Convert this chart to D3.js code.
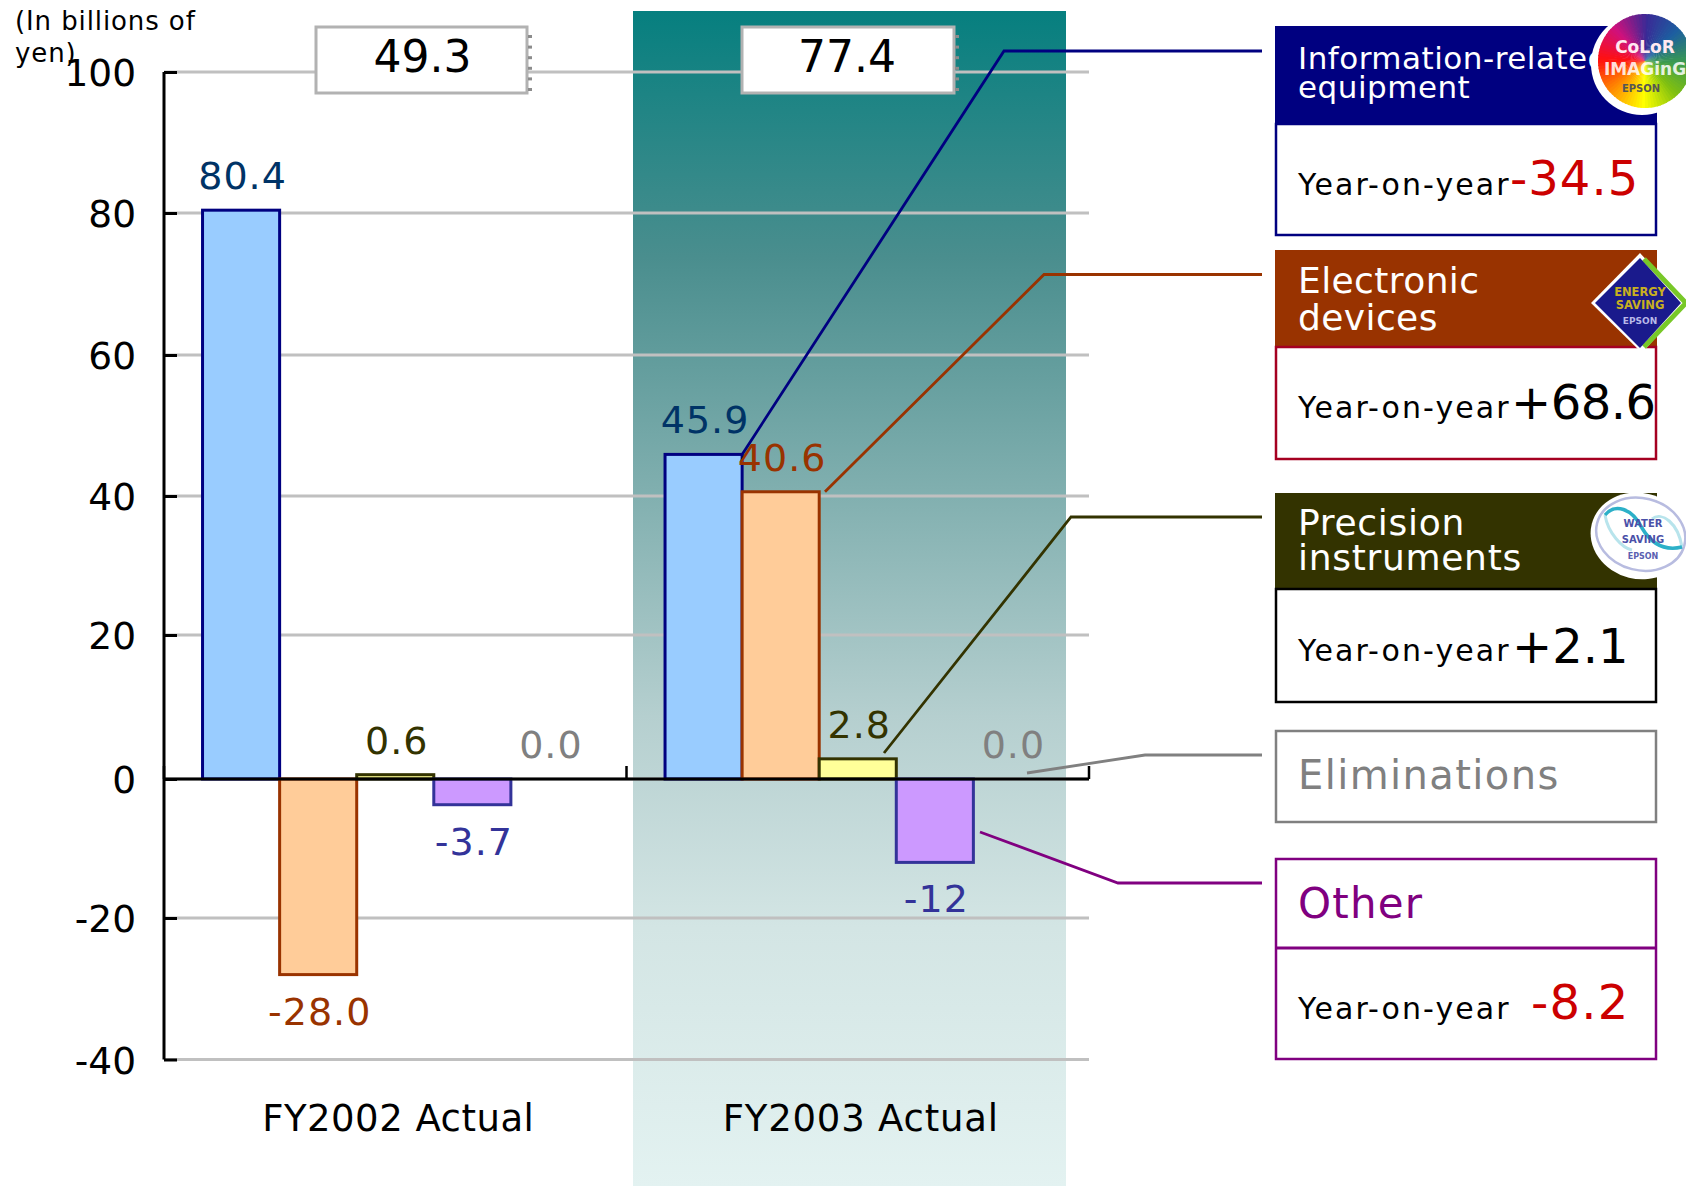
<!DOCTYPE html>
<html>
<head>
<meta charset="utf-8">
<script src="https://cdn.jsdelivr.net/npm/d3@7"></script>
<style>
html,body{margin:0;padding:0;background:#fff;overflow:hidden;}
svg{display:block;}
text{font-family:"DejaVu Sans",Verdana,sans-serif;}
</style>
</head>
<body>
<svg id="chart" width="1686" height="1186"></svg>
<script>
// Operating income by segment, in billions of yen
const years = ["FY2002 Actual", "FY2003 Actual"];
const segments = ["Information-related equipment", "Electronic devices", "Precision instruments", "Other", "Eliminations"];
const fy2002Values = [80.4, -28.0, 0.6, -3.7, 0.0];
const fy2003Values = [45.9, 40.6, 2.8, -12, 0.0];
const fy2002Labels = ["80.4", "-28.0", "0.6", "-3.7", "0.0"];
const fy2003Labels = ["45.9", "40.6", "2.8", "-12", "0.0"];
const yearTotals = ["49.3", "77.4"];
const axisTicks = [100, 80, 60, 40, 20, 0, -20, -40];
const axisRows = [72, 213, 355, 496, 635, 779, 918, 1059.5];
const fillColors = ["#99ccff", "#ffcc99", "#ffff99", "#cc99ff", "none"];
const edgeColors = ["#000080", "#993300", "#333300", "#333399", "none"];
const labelColors = ["#003366", "#993300", "#333300", "#333399", "#808080"];

// Year-on-year panel content
const panelTitles = [["Information-related", "equipment"], ["Electronic", "devices"], ["Precision", "instruments"], ["Eliminations"], ["Other"]];
const panelChanges = ["-34.5", "+68.6", "+2.1", null, "-8.2"];

const svg = d3.select("#chart");
const x0 = d3.scaleBand().domain(years).range([164, 1089]);
const x1 = d3.scaleBand().domain(d3.range(5)).range([0, x0.bandwidth()]).paddingOuter(0.5).paddingInner(0);
const y = d3.scaleLinear().domain(axisTicks).range(axisRows);

// Shaded backdrop behind the second year
const defs = svg.append("defs");
const grad = defs.append("linearGradient").attr("id", "yearShade").attr("x1", 0).attr("y1", 0).attr("x2", 0).attr("y2", 1);
[[0, "#067f7f"], [0.21, "#4a8e8e"], [0.6, "#b5cfcf"], [0.78, "#d3e5e4"], [1, "#e3f2f1"]].forEach(([o, c]) => {
  grad.append("stop").attr("offset", o).attr("stop-color", c);
});
svg.append("rect").attr("x", 633).attr("y", 11).attr("width", 433).attr("height", 1175).attr("fill", "url(#yearShade)");

// Horizontal gridlines
svg.append("g").selectAll("line").data(axisTicks).join("line")
  .attr("x1", 164).attr("x2", 1089)
  .attr("y1", d => y(d)).attr("y2", d => y(d))
  .attr("stroke", "#c0c0c0").attr("stroke-width", 3);

// Year total boxes straddling the top gridline
const totalBoxes = [[316, 211], [742, 212]];
yearTotals.forEach((t, i) => {
  const [bx, bw] = totalBoxes[i];
  const g = svg.append("g");
  g.append("rect").attr("x", bx).attr("y", 27).attr("width", bw).attr("height", 66)
    .attr("fill", "#fff").attr("stroke", "#b2b2b2").attr("stroke-width", 3);
  d3.range(6).forEach(k => {
    g.append("rect").attr("x", bx + bw + 1).attr("y", 35 + k * 10.6).attr("width", 4).attr("height", 3).attr("fill", "#8c8c8c");
  });
  g.append("text").attr("x", bx + bw / 2 + (i ? -1 : 1)).attr("y", 72).attr("text-anchor", "middle")
    .attr("font-size", 44).attr("fill", "#000").text(t);
});

// Bars for both years
const seriesByYear = [fy2002Values, fy2003Values];
const labelsByYear = [fy2002Labels, fy2003Labels];
const yearLabelSpacing = [0.5, 0.8];
const bars = svg.append("g");
years.forEach((yr, yi) => {
  const rows = seriesByYear[yi].map((v, s) => ({ v, s, label: labelsByYear[yi][s] }));
  bars.selectAll(null).data(rows.filter(r => r.s < 4)).join("rect")
    .attr("x", r => x0(yr) + x1(r.s))
    .attr("y", r => Math.min(y(r.v), y(0)))
    .attr("width", x1.bandwidth())
    .attr("height", r => Math.abs(y(r.v) - y(0)))
    .attr("fill", r => fillColors[r.s])
    .attr("stroke", r => edgeColors[r.s])
    .attr("stroke-width", 3);
  bars.selectAll(null).data(rows).join("text")
    .attr("x", r => x0(yr) + x1(r.s) + x1.bandwidth() / 2 + 1.5)
    .attr("y", r => r.v < 0 ? y(r.v) + 50 : y(r.v) - 21)
    .attr("text-anchor", "middle")
    .attr("font-size", 38)
    .attr("letter-spacing", 1)
    .attr("fill", r => labelColors[r.s])
    .text(r => r.label);
  svg.append("text").attr("x", x0(yr) + x0.bandwidth() / 2 + 3).attr("y", 1131).attr("text-anchor", "middle")
    .attr("font-size", 37).attr("letter-spacing", yearLabelSpacing[yi]).attr("fill", "#000").text(yr);
});

// Value axis with inward ticks
const axis = d3.axisLeft(y).tickValues(axisTicks).tickSize(-13).tickPadding(28).tickFormat(d => String(d));
const axisG = svg.append("g").attr("transform", "translate(164,0)").call(axis);
axisG.select(".domain").attr("stroke", "#000").attr("stroke-width", 3).attr("d", `M0,${y(100)}V${y(-40)}`);
axisG.selectAll(".tick line").attr("stroke", "#000").attr("stroke-width", 3);
axisG.selectAll(".tick text").attr("font-size", 37.5).attr("fill", "#000").attr("font-family", '"DejaVu Sans",sans-serif').attr("dy", "13.5px");

// Zero baseline with group separators
svg.append("line").attr("x1", 164).attr("x2", 1089).attr("y1", y(0)).attr("y2", y(0)).attr("stroke", "#000").attr("stroke-width", 3);
[164, x0(years[1]), 1089].forEach(tx => {
  svg.append("line").attr("x1", tx).attr("x2", tx).attr("y1", y(0)).attr("y2", y(0) - 13).attr("stroke", "#000").attr("stroke-width", 2.5);
});

// Unit note
svg.append("text").attr("font-size", 26).attr("letter-spacing", 0.9).attr("fill", "#000")
  .selectAll("tspan").data(["(In billions of", "yen)"]).join("tspan")
  .attr("x", 15).attr("y", (d, i) => 30 + i * 32).text(d => d);

// Leader lines from the FY2003 bars to the panels
const fy = years[1];
const leaderPaths = [
  { color: "#000080", pts: [[x0(fy) + x1(1), y(fy2003Values[0])], [1004, 51], [1262, 51]] },
  { color: "#993300", pts: [[825, y(fy2003Values[1])], [1044, 274.5], [1262, 274.5]] },
  { color: "#333300", pts: [[884, 753], [1071, 517], [1262, 517]] },
  { color: "#808080", pts: [[1027, 773], [1145, 755], [1262, 755]] },
  { color: "#800080", pts: [[980, 832], [1118, 883], [1262, 883]] }
];
const leader = d3.line();
svg.append("g").selectAll("path").data(leaderPaths).join("path")
  .attr("d", d => leader(d.pts)).attr("fill", "none").attr("stroke", d => d.color).attr("stroke-width", 2.8);

// Segment panels on the right
const panelX = 1276, panelW = 380;
const panelBoxes = [
  { top: 26, mid: 124, bottom: 235, head: "#000080", edge: "#000080", titleSize: 31, titleGap: 0.5, titleY: [69, 98], ink: "#fff", changeInk: "#cc0000", changeY: 195, yoyY: 195, changeX: 1510, changeGap: 1 },
  { top: 250, mid: 347, bottom: 459, head: "#993300", edge: "#a50021", titleSize: 36, titleGap: 0.4, titleY: [293, 330], ink: "#fff", changeInk: "#000", changeY: 419, yoyY: 418, changeX: 1511, changeGap: -0.5 },
  { top: 493, mid: 589, bottom: 702, head: "#333300", edge: "#000", titleSize: 36, titleGap: 0.7, titleY: [535, 570], ink: "#fff", changeInk: "#000", changeY: 663, yoyY: 661, changeX: 1512, changeGap: 0 },
  { top: 731, mid: null, bottom: 822, head: null, edge: "#808080", titleSize: 40, titleGap: 1.4, titleY: [789], ink: "#808080" },
  { top: 859, mid: 948, bottom: 1059, head: null, edge: "#800080", titleSize: 42, titleGap: 1.2, titleY: [918], ink: "#800080", changeInk: "#cc0000", changeY: 1019, yoyY: 1019, changeX: 1531, changeGap: 1.2 }
];
const panels = svg.append("g");
panelBoxes.forEach((p, i) => {
  if (p.head) {
    panels.append("rect").attr("x", panelX - 1).attr("y", p.top).attr("width", panelW + 2).attr("height", p.mid - p.top).attr("fill", p.head);
    panels.append("rect").attr("x", panelX).attr("y", p.mid).attr("width", panelW).attr("height", p.bottom - p.mid).attr("fill", "#fff").attr("stroke", p.edge).attr("stroke-width", 2.5);
  } else {
    panels.append("rect").attr("x", panelX).attr("y", p.top).attr("width", panelW).attr("height", p.bottom - p.top).attr("fill", "#fff").attr("stroke", p.edge).attr("stroke-width", 2.5);
    if (p.mid) panels.append("line").attr("x1", panelX).attr("x2", panelX + panelW).attr("y1", p.mid).attr("y2", p.mid).attr("stroke", p.edge).attr("stroke-width", 3);
  }
  panelTitles[i].forEach((line, k) => {
    panels.append("text").attr("x", 1298).attr("y", p.titleY[k]).attr("font-size", p.titleSize).attr("letter-spacing", p.titleGap).attr("fill", p.ink).text(line);
  });
  if (panelChanges[i]) {
    panels.append("text").attr("x", 1298).attr("y", p.yoyY).attr("font-size", 30).attr("letter-spacing", 2.1).attr("fill", "#000").text("Year-on-year");
    panels.append("text").attr("x", p.changeX).attr("y", p.changeY).attr("font-size", 48).attr("letter-spacing", p.changeGap).attr("fill", p.changeInk).text(panelChanges[i]);
  }
});

// Color Imaging badge: a colour wheel
const wheelStops = ["#3a2a96", "#1c5fa0", "#3a9a50", "#80c010", "#ffff00", "#ff9000", "#ff1010", "#d0107c", "#3a2a96"];
const wheelColor = d3.scaleLinear().domain(wheelStops.map((c, i) => i / (wheelStops.length - 1))).range(wheelStops);
const badge1 = svg.append("g").attr("transform", "translate(1645,61)");
badge1.append("circle").attr("cx", -3).attr("cy", 3).attr("r", 51).attr("fill", "#fff");
const wedge = d3.arc().innerRadius(0).outerRadius(47);
badge1.selectAll("path").data(d3.range(90)).join("path")
  .attr("d", i => wedge({ startAngle: i / 90 * 2 * Math.PI, endAngle: (i + 1.3) / 90 * 2 * Math.PI }))
  .attr("fill", i => wheelColor(i / 90));
badge1.append("text").attr("x", 0).attr("y", -8).attr("text-anchor", "middle").attr("font-size", 17).attr("font-weight", "bold").attr("fill", "#ffe8f0").text("CoLoR");
badge1.append("text").attr("x", 0).attr("y", 14).attr("text-anchor", "middle").attr("font-size", 17).attr("font-weight", "bold").attr("fill", "#ffffffdd").text("IMAGinG");
badge1.append("text").attr("x", -4).attr("y", 31).attr("text-anchor", "middle").attr("font-size", 10).attr("font-weight", "bold").attr("fill", "#555").text("EPSON");

// Energy Saving badge: a diamond with a green edge
const badge2 = svg.append("g").attr("transform", "translate(1640,303)");
badge2.append("path").attr("d", "M0,-50L46,0L2,50L-49,0Z").attr("fill", "#fff");
badge2.append("path").attr("d", "M4,-44L46,0L4,44").attr("fill", "none").attr("stroke", "#78c828").attr("stroke-width", 5);
badge2.append("path").attr("d", "M0,-45L41,0L0,45L-45,0Z").attr("fill", "#1a1a8c");
badge2.append("text").attr("y", -7).attr("text-anchor", "middle").attr("font-size", 11.5).attr("font-weight", "bold").attr("fill", "#c8b020").text("ENERGY");
badge2.append("text").attr("y", 6).attr("text-anchor", "middle").attr("font-size", 11.5).attr("font-weight", "bold").attr("fill", "#c8b020").text("SAVING");
badge2.append("text").attr("y", 21).attr("text-anchor", "middle").attr("font-size", 9).attr("font-weight", "bold").attr("fill", "#b8b8e8").text("EPSON");

// Water Saving badge: an oval with a wave
const badge3 = svg.append("g").attr("transform", "translate(1640,533)");
badge3.append("ellipse").attr("cy", 3).attr("rx", 49).attr("ry", 43).attr("transform", "rotate(14)").attr("fill", "#fff");
badge3.append("ellipse").attr("cx", 1).attr("cy", 1).attr("rx", 45).attr("ry", 36).attr("transform", "rotate(14)").attr("fill", "none").attr("stroke", "#b8bce0").attr("stroke-width", 2.5);
badge3.append("path").attr("d", "M-35,-18C-32,0 -18,15 -8,17M12,-14C22,-22 38,-10 42,14").attr("fill", "none").attr("stroke", "#b8e4ec").attr("stroke-width", 3);
badge3.append("path").attr("d", "M-35,-18C-25,-30 -8,-25 2,-5C12,12 25,18 42,14").attr("fill", "none").attr("stroke", "#2cb0c8").attr("stroke-width", 3.5);
badge3.append("text").attr("x", 3).attr("y", -6).attr("text-anchor", "middle").attr("font-size", 10).attr("font-weight", "bold").attr("fill", "#4a50a8").text("WATER");
badge3.append("text").attr("x", 3).attr("y", 10).attr("text-anchor", "middle").attr("font-size", 10).attr("font-weight", "bold").attr("fill", "#4a50a8").text("SAVING");
badge3.append("text").attr("x", 3).attr("y", 26).attr("text-anchor", "middle").attr("font-size", 8).attr("font-weight", "bold").attr("fill", "#5a60b0").text("EPSON");
</script>
</body>
</html>
